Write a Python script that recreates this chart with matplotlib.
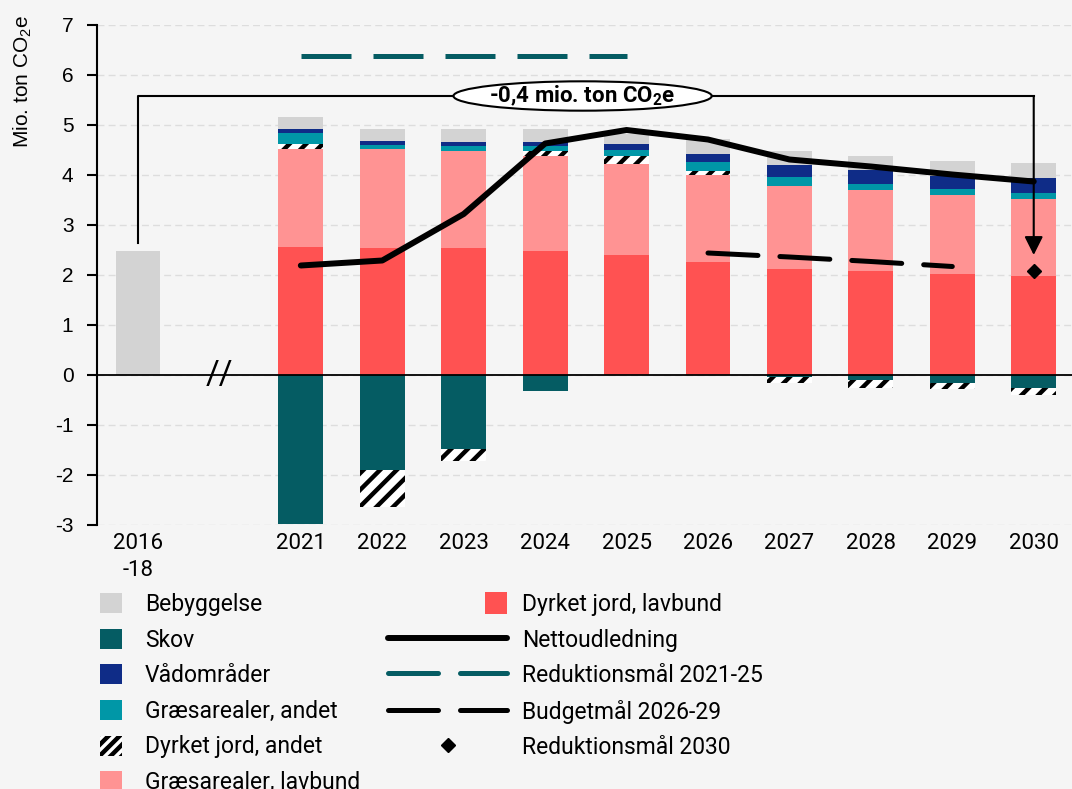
import numpy as np
import matplotlib
matplotlib.use('Agg')
import matplotlib.pyplot as plt
from matplotlib.patches import Patch, Rectangle
from matplotlib.lines import Line2D
from matplotlib.legend_handler import HandlerPatch

plt.rcParams['font.family'] = ['Roboto', 'DejaVu Sans']
plt.rcParams['mathtext.default'] = 'regular'
plt.rcParams['hatch.linewidth'] = 3.2
plt.rcParams['axes.unicode_minus'] = False

# categories (slot 1 is the axis break)
categories = ['2016\n-18', '', '2021', '2022', '2023', '2024', '2025',
              '2026', '2027', '2028', '2029', '2030']

# positive stacks
dyrket_lavbund = [0, 0, 2.57, 2.55, 2.55, 2.48, 2.41, 2.27, 2.13, 2.08, 2.03, 1.99]
graes_lavbund = [0, 0, 1.96, 1.97, 1.94, 1.90, 1.82, 1.73, 1.65, 1.62, 1.58, 1.53]
dyrket_andet_pos = [0, 0, 0.10, 0.00, 0.00, 0.10, 0.15, 0.09, 0.00, 0.00, 0.00, 0.00]
graes_andet = [0, 0, 0.21, 0.09, 0.10, 0.10, 0.12, 0.17, 0.18, 0.12, 0.11, 0.12]
vaadomraader = [0, 0, 0.08, 0.07, 0.08, 0.08, 0.13, 0.17, 0.24, 0.29, 0.27, 0.30]
bebyggelse = [2.48, 0, 0.23, 0.24, 0.25, 0.26, 0.20, 0.29, 0.27, 0.28, 0.30, 0.30]

# negative stacks
skov = [0, 0, -2.98, -1.89, -1.47, -0.31, 0, 0, -0.03, -0.10, -0.15, -0.25]
dyrket_andet_neg = [0, 0, 0, -0.74, -0.25, 0, 0, 0, -0.13, -0.15, -0.12, -0.14]

# lines
netto_years = ['2021', '2022', '2023', '2024', '2025', '2026', '2027', '2028', '2029', '2030']
nettoudledning = [2.19, 2.29, 3.22, 4.63, 4.90, 4.71, 4.31, 4.17, 4.01, 3.87]
red_years = ['2021', '2022', '2023', '2024', '2025']
reduktion_2125 = [6.38, 6.38, 6.38, 6.38, 6.38]
budget_years = ['2026', '2027', '2028', '2029']
budget_2629 = [2.44, 2.36, 2.27, 2.17]
reduktion_2030 = 2.09

# bracket from baseline to 2030
bracket_start, bracket_top, bracket_end = 2.65, 5.58, 2.40
bracket_label = '-0,4 mio. ton CO$_2$e'

c_beb = '#D3D3D3'
c_skov = '#055C63'
c_vaad = '#0F2C87'
c_graes = '#0097A7'
c_glav = '#FF9393'
c_dlav = '#FF5252'
bg = '#F5F5F5'

x = np.arange(len(categories))
xpos = {c: i for i, c in enumerate(categories)}
w = 0.55

fig = plt.figure(figsize=(10.72, 7.89), dpi=100, facecolor=bg)
ax = fig.add_axes([97/1072, 264/789, 975/1072, 500/789], facecolor=bg)

bottom = np.zeros(len(x))
for vals, col, hatch in [(dyrket_lavbund, c_dlav, None), (graes_lavbund, c_glav, None),
                         (dyrket_andet_pos, 'white', '//'), (graes_andet, c_graes, None),
                         (vaadomraader, c_vaad, None), (bebyggelse, c_beb, None)]:
    vals = np.array(vals)
    if hatch:
        ax.bar(x, vals, w, bottom=bottom, color='white', edgecolor='black', hatch=hatch, lw=0, zorder=2)
    else:
        ax.bar(x, vals, w, bottom=bottom, color=col, lw=0, zorder=2)
    bottom += vals

nbottom = np.array(skov, dtype=float)
ax.bar(x, skov, w, color=c_skov, lw=0, zorder=2)
ax.bar(x, dyrket_andet_neg, w, bottom=nbottom, color='white', edgecolor='black', hatch='//', lw=0, zorder=2)

ax.axhline(0, color='black', lw=1.3, zorder=3)

# bracket
x0, x1 = xpos['2016\n-18'], xpos['2030']
ax.plot([x0, x0, x1], [bracket_start, bracket_top, bracket_top], color='black', lw=1.5, zorder=4)
ax.annotate('', xy=(x1, bracket_end), xytext=(x1, bracket_top),
            arrowprops=dict(arrowstyle='-|>', color='black', lw=1.5, mutation_scale=28, shrinkA=0, shrinkB=0),
            zorder=4)

ax.plot([xpos[y] for y in netto_years], nettoudledning, color='black', lw=4.3,
        solid_capstyle='round', solid_joinstyle='round', zorder=5)
ax.plot([xpos[y] for y in red_years], reduktion_2125, color=c_skov, lw=3.6,
        ls=(0, (10, 4.4)), dash_capstyle='butt', zorder=5)
ax.plot([xpos[y] for y in budget_years], budget_2629, color='black', lw=3.6,
        ls=(0, (10, 4.4)), dash_capstyle='round', zorder=5)
ax.plot([xpos['2030']], [reduktion_2030], 'D', color='black', ms=7.5, zorder=6)

ax.text((x0 + x1) / 2 - 0.04, bracket_top, bracket_label, ha='center', va='center',
        fontsize=16, fontweight='bold', zorder=7,
        bbox=dict(boxstyle='ellipse,pad=-0.08', fc='white', ec='black', lw=1.5))

# axis break
ax.text(1, 0, '//', ha='center', va='center', fontsize=24, zorder=6)

ax.set_xlim(-0.503, 11.47)
ax.set_ylim(-3, 7)
ax.set_yticks(range(-3, 8))
ax.set_xticks(x)
ax.set_xticklabels(categories, fontsize=16, linespacing=1.33)
ax.tick_params(axis='x', length=0, pad=6)
ax.tick_params(axis='y', length=7, width=1.5, labelsize=15, pad=10)
for lab in ax.get_yticklabels():
    lab.set_family(['Liberation Sans', 'DejaVu Sans'])
for s in ['top', 'right', 'bottom']:
    ax.spines[s].set_visible(False)
ax.spines['left'].set_linewidth(1.5)
ax.yaxis.grid(True, color='#DDDDDD', ls=(0, (5, 3)), lw=1)
ax.set_axisbelow(True)

fig.text(23/1072, 1 - 82/789, 'Mio. ton CO$_2$e', rotation=90, ha='center', va='center',
         fontsize=15, family=['Liberation Sans', 'DejaVu Sans'])

# legends
h1 = [Patch(fc=c_beb), Patch(fc=c_skov), Patch(fc=c_vaad), Patch(fc=c_graes),
      Patch(fc='white', ec='black', hatch='///', lw=0), Patch(fc=c_glav)]
l1 = ['Bebyggelse', 'Skov', 'Vådområder', 'Græsarealer, andet', 'Dyrket jord, andet',
      'Græsarealer, lavbund']
leg1 = fig.legend(h1, l1, loc='upper left', bbox_to_anchor=(100/1072, 1 - 593/789),
                  frameon=False, fontsize=16.5, handlelength=0.97, handleheight=0.97,
                  handletextpad=1.0, labelspacing=0.55, borderpad=0, borderaxespad=0)


def square_right(legend, orig_handle, xdescent, ydescent, width, height, fontsize):
    s = fontsize * 0.97
    return Rectangle((-xdescent + width - s, -ydescent + height / 2 - s / 2), s, s)


red_patch = Patch(fc=c_dlav)
h2 = [red_patch,
      Line2D([], [], color='black', lw=4.3, solid_capstyle='round'),
      Line2D([], [], color=c_skov, lw=3.6, ls=(0, (10, 4.4)), dash_capstyle='round'),
      Line2D([], [], color='black', lw=3.6, ls=(0, (10, 4.4)), dash_capstyle='round'),
      Line2D([], [], color='black', marker='D', ms=7.5, ls='none')]
l2 = ['Dyrket jord, lavbund', 'Nettoudledning', 'Reduktionsmål 2021-25', 'Budgetmål 2026-29',
      'Reduktionsmål 2030']
leg2 = fig.legend(h2, l2, loc='upper left', bbox_to_anchor=(388/1072, 1 - 593/789),
                  frameon=False, fontsize=16.5, handlelength=5.2, handleheight=0.97,
                  handletextpad=0.66, labelspacing=0.55, borderpad=0, borderaxespad=0,
                  handler_map={red_patch: HandlerPatch(patch_func=square_right)})

fig.savefig('out.png', dpi=100, facecolor=bg)
